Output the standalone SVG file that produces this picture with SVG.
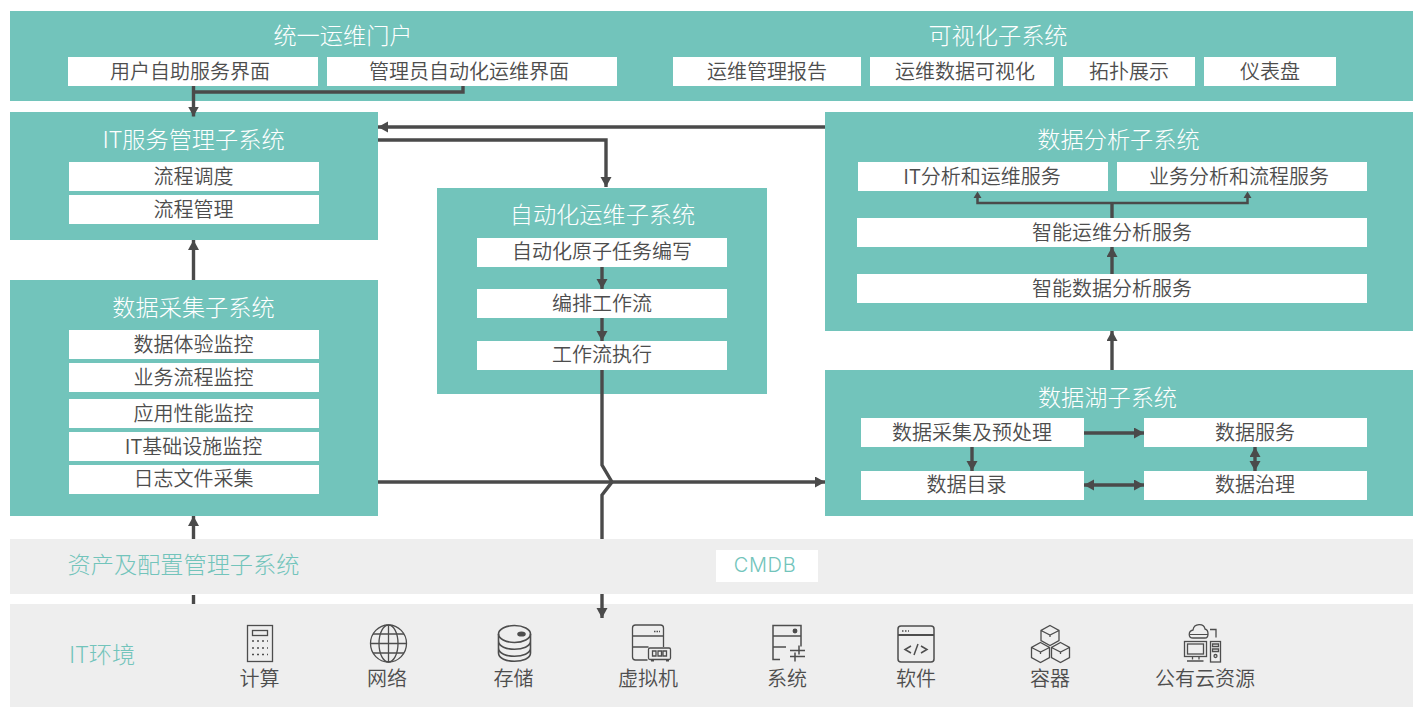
<svg xmlns="http://www.w3.org/2000/svg" width="1424" height="712" viewBox="0 0 1424 712">
<style>
text{font-family:"Noto Sans CJK SC","Noto Sans",sans-serif;text-anchor:middle;font-weight:350}
.p{fill:#72c4bb}.g{fill:#eeeeee}.w{fill:#fff}
.t{font-size:23.200px;fill:#fff;font-weight:300}.s{font-size:20px;fill:#4d4d4d}.h{font-size:23.200px;fill:#72c4bb;font-weight:300}.c{font-size:20px;fill:#72c4bb;font-family:"Inter","Noto Sans",sans-serif;font-weight:300;letter-spacing:.7px}
.l{fill:none;stroke:#4a4a4a;stroke-width:3.400}
.i{fill:none;stroke:#4d4d4d;stroke-width:1.300}
</style>
<defs>
<marker id="a" markerUnits="userSpaceOnUse" markerWidth="12" markerHeight="12" refX="10" refY="5.500" orient="auto-start-reverse"><path d="M0 0L10 5.500L0 11Z" fill="#4a4a4a"/></marker>
</defs>
<g id="portal"><rect class="p" x="10" y="11" width="1403" height="90"/>
<text class="t" x="343" y="44">统一运维门户</text><text class="t" x="998" y="44">可视化子系统</text>
<rect class="w" x="68" y="57" width="250" height="29"/><text class="s" x="190" y="78.500">用户自助服务界面</text>
<rect class="w" x="327" y="57" width="290" height="29"/><text class="s" x="469" y="78.500">管理员自动化运维界面</text>
<rect class="w" x="673" y="57" width="188" height="29"/><text class="s" x="767" y="78.500">运维管理报告</text>
<rect class="w" x="870" y="57" width="184" height="29"/><text class="s" x="965" y="78.500">运维数据可视化</text>
<rect class="w" x="1063" y="57" width="132" height="29"/><text class="s" x="1129" y="78.500">拓扑展示</text>
<rect class="w" x="1204" y="57" width="132" height="29"/><text class="s" x="1270" y="78.500">仪表盘</text></g>
<g id="itsm"><rect class="p" x="10" y="112" width="368" height="128"/>
<text class="t" x="193.500" y="148">IT服务管理子系统</text>
<rect class="w" x="69" y="162" width="250" height="29"/><text class="s" x="193.500" y="183.500">流程调度</text>
<rect class="w" x="69" y="195" width="250" height="29"/><text class="s" x="193.500" y="216.500">流程管理</text></g>
<g id="collect"><rect class="p" x="10" y="280" width="368" height="236"/>
<text class="t" x="193.500" y="316">数据采集子系统</text>
<rect class="w" x="69" y="330" width="250" height="29"/><text class="s" x="193.500" y="351.500">数据体验监控</text>
<rect class="w" x="69" y="363" width="250" height="29"/><text class="s" x="193.500" y="384.500">业务流程监控</text>
<rect class="w" x="69" y="399" width="250" height="29"/><text class="s" x="193.500" y="420.500">应用性能监控</text>
<rect class="w" x="69" y="432" width="250" height="29"/><text class="s" x="193.500" y="453.500">IT基础设施监控</text>
<rect class="w" x="69" y="465" width="250" height="29"/><text class="s" x="193.500" y="485.500">日志文件采集</text></g>
<g id="auto"><rect class="p" x="437" y="188" width="330" height="206"/>
<text class="t" x="602.500" y="223">自动化运维子系统</text>
<rect class="w" x="477" y="238" width="250" height="29"/><text class="s" x="602" y="259">自动化原子任务编写</text>
<rect class="w" x="477" y="289" width="250" height="29"/><text class="s" x="602" y="310.500">编排工作流</text>
<rect class="w" x="477" y="341" width="250" height="29"/><text class="s" x="602" y="361.500">工作流执行</text></g>
<g id="analysis"><rect class="p" x="825" y="112" width="588" height="219"/>
<text class="t" x="1118.500" y="148">数据分析子系统</text>
<rect class="w" x="858" y="162" width="250" height="29"/><text class="s" x="982" y="183.500">IT分析和运维服务</text>
<rect class="w" x="1117" y="162" width="250" height="29"/><text class="s" x="1239" y="183.500">业务分析和流程服务</text>
<rect class="w" x="857" y="218" width="510" height="29"/><text class="s" x="1112" y="239.500">智能运维分析服务</text>
<rect class="w" x="857" y="274" width="510" height="29"/><text class="s" x="1112" y="295.500">智能数据分析服务</text></g>
<g id="lake"><rect class="p" x="825" y="370" width="588" height="146"/>
<text class="t" x="1107.500" y="406">数据湖子系统</text>
<rect class="w" x="861" y="418" width="223" height="29"/><text class="s" x="972" y="439.500">数据采集及预处理</text>
<rect class="w" x="1144" y="418" width="223" height="29"/><text class="s" x="1255" y="439.500">数据服务</text>
<rect class="w" x="861" y="471" width="223" height="29"/><text class="s" x="966.500" y="491.500">数据目录</text>
<rect class="w" x="1144" y="471" width="223" height="29"/><text class="s" x="1255" y="491.500">数据治理</text></g>
<g id="cmdb"><rect class="g" x="10" y="539" width="1403" height="55"/>
<text class="h" x="183.500" y="573">资产及配置管理子系统</text>
<rect class="w" x="716" y="550" width="102" height="32"/><text class="c" x="765" y="572">CMDB</text></g>
<g id="env"><rect class="g" x="10" y="604" width="1403" height="103"/>
<text class="h" x="102" y="663">IT环境</text>
<text class="s" x="259.500" y="686">计算</text><text class="s" x="387" y="686">网络</text><text class="s" x="513.500" y="686">存储</text><text class="s" x="648" y="686">虚拟机</text><text class="s" x="787" y="686">系统</text><text class="s" x="916" y="686">软件</text><text class="s" x="1050" y="686">容器</text><text class="s" x="1205" y="686">公有云资源</text>
<g id="i-compute" class="i"><rect x="247.500" y="625.500" width="25" height="36"/><rect x="252.500" y="630.500" width="15" height="5"/><path d="M252 641h16M252 648h16M252 654.500h16" stroke-dasharray="2 3"/></g>
<g id="i-network" class="i"><ellipse cx="388.500" cy="643.500" rx="18" ry="18.500"/><ellipse cx="388.500" cy="643.500" rx="9.500" ry="18.500"/><path d="M388.500 625v37M373 634h31M370.500 643.500h36M373 653h31"/></g>
<g id="i-storage" class="i" style="stroke-width:1.600"><ellipse cx="514.500" cy="634" rx="16" ry="8.500"/><path d="M498.500 634v7c0 11 32 11 32 0v-7M498.500 641v7c0 11 32 11 32 0v-7M498.500 648v5c0 11 32 11 32 0v-5"/><ellipse cx="521.500" cy="634" rx="3.500" ry="1.800" fill="#4d4d4d"/></g>
<g id="i-vm" class="i"><path d="M632.500 636h31V628q0-3-3-3H635.500q-3 0-3 3V636ZM632.500 636v11h16M663.500 636v11M632.500 647v10q0 3 3 3h12"/><path d="M654 631.500h6" stroke-dasharray="1.500 1"/><rect x="648.500" y="648" width="22" height="11.500" rx="1.500"/><path d="M652.500 651h3.500v5h-3.500zM658 651h3.500v5h-3.500zM663 651h3.500v5h-3.500z"/><path d="M651 660.500h3M666 660.500h3" stroke-width="2"/></g>
<g id="i-system" class="i" style="stroke-width:1.500"><path d="M780 659.500h-7V625.500h28v21M773 636h28M773 647h13M790 650.500h15M799 645.500v9M790 656.500h15M795 652.500v9"/><circle cx="795" cy="631" r="1.700" fill="#4d4d4d"/></g>
<g id="i-software" class="i" style="stroke-width:1.500"><rect x="898" y="626" width="36" height="36" rx="3"/><path d="M898 635h36" stroke-width="2"/><path d="M902 631h7" stroke-dasharray="1.500 1.500"/><path d="M911 646l-6 3.500 6 3.500M921 646l6 3.500-6 3.500M918 644l-4 11"/></g>
<g id="i-container" class="i"><path d="M1050 625.500l9 5v10l-9 5-9-5v-10zM1041 630.500l9 4.500 9-4.500M1050 635v2"/><path d="M1040.500 642.500l9 5v10l-9 5-9-5v-10zM1031.500 647.500l9 4.500 9-4.500M1040.500 652v2"/><path d="M1060.500 642.500l9 5v10l-9 5-9-5v-10zM1051.500 647.500l9 4.500 9-4.500M1060.500 652v2"/></g>
<g id="i-cloud" class="i"><path d="M1193 638c-5 0-5-7 0-8 1-7 11-7 12-1 4 1 4 9 0 9ZM1210 629.500h6v8"/><path d="M1190 634.500h18" stroke-width="1"/><rect x="1184.500" y="641.500" width="22" height="15"/><rect x="1187.500" y="644" width="16" height="10"/><path d="M1192.500 656.500v3M1199 656.500v3M1187 661h16.500" /><rect x="1210.500" y="641.500" width="10" height="20.500"/><path d="M1212.500 644h6v2.500h-6zM1212.500 649h6v2.500h-6z"/><circle cx="1215.500" cy="656" r="1.500"/></g></g>
<g id="connectors">
<path class="l" d="M193.500 86V116.500" marker-end="url(#a)"/>
<path class="l" d="M463 86V92H193.500"/>
<path class="l" d="M825 127H378" marker-end="url(#a)"/>
<path class="l" d="M378 140H606V187" marker-end="url(#a)"/>
<path class="l" d="M193.500 280V240" marker-end="url(#a)"/>
<path class="l" d="M193.500 604V595"/>
<path class="l" d="M193.500 539V516" marker-end="url(#a)"/>
<path class="l" d="M602 267V289" marker-end="url(#a)"/>
<path class="l" d="M602 318V341" marker-end="url(#a)"/>
<path class="l" d="M602 370V465L612 482L602 495V539"/>
<path class="l" d="M602 594V618" marker-end="url(#a)"/>
<path class="l" d="M378 482H825" marker-end="url(#a)"/>
<path class="l" d="M1112 370V331" marker-end="url(#a)"/>
<path class="l" d="M1112 274V247" marker-end="url(#a)"/>
<path class="l" d="M1112 218V202"/>
<path class="l" style="stroke-width:2.500" d="M977.500 194V203H1247.500V194"/>
<path d="M973.500 198L977.500 191.500L981.500 198ZM1243.500 198L1247.500 191.500L1251.500 198Z" fill="#4a4a4a"/>
<path class="l" d="M1084 433H1144" marker-end="url(#a)"/>
<path class="l" d="M972 447V471" marker-end="url(#a)"/>
<path class="l" d="M1084 485H1144" marker-start="url(#a)" marker-end="url(#a)"/>
<path class="l" d="M1255 447V471" marker-start="url(#a)" marker-end="url(#a)"/>
</g>
</svg>
